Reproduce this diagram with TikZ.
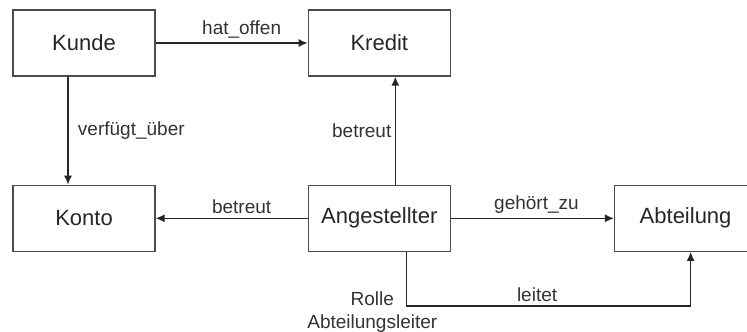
\documentclass[tikz,border=0pt]{standalone}
\usepackage{fontspec}
\setmainfont{Liberation Sans}
\usepackage{xcolor}
\usepackage{tikz}
\usetikzlibrary{positioning, arrows.meta}

\begin{document}
\begin{tikzpicture}[
    x=1pt, y=1pt,
    >={Latex[length=9pt, width=8pt]},
    entity/.style={rectangle, draw=black!70, line width=1.3pt, minimum width=142pt, minimum height=66pt, font=\fontsize{22}{26}\selectfont, text=black!85},
    rel/.style={->, line width=1.3pt, draw=black!85},
    lbl/.style={font=\fontsize{19}{23}\selectfont, text=black!80}
]
\useasboundingbox (0,0) rectangle (747,332);

% Entities
\node[entity] (kunde) at (84,289) {Kunde};
\node[entity, right=152pt of kunde] (kredit) {Kredit};
\node[entity, below=108pt of kunde] (konto) {Konto};
\node[entity, below=108pt of kredit] (angest) {Angestellter};
\node[entity, right=163pt of angest] (abteil) {Abteilung};

% Role annotation
\node[lbl, align=center, below=36pt of angest, xshift=-7pt] (rolle) {Rolle\\Abteilungsleiter};

% Relationships
\draw[rel] (kunde) -- node[lbl, above=1pt, xshift=10pt] {hat\_offen} (kredit);
\draw[rel] ([xshift=-16pt]kunde.south) -- node[lbl, right=6pt] {verfügt\_über} ([xshift=-16pt]konto.north);
\draw[rel] ([xshift=16pt]angest.north) -- node[lbl, left=0pt] {betreut} ([xshift=16pt]kredit.south);
\draw[rel] (angest) -- node[lbl, above=1pt, xshift=10pt] {betreut} (konto);
\draw[rel] (angest) -- node[lbl, above=1pt, xshift=4pt] {gehört\_zu} (abteil);
\draw[rel] ([xshift=27pt]angest.south) -- ++(0,-54) -| node[lbl, pos=0.23, above] {leitet} ([xshift=5pt]abteil.south);

\end{tikzpicture}
\end{document}
